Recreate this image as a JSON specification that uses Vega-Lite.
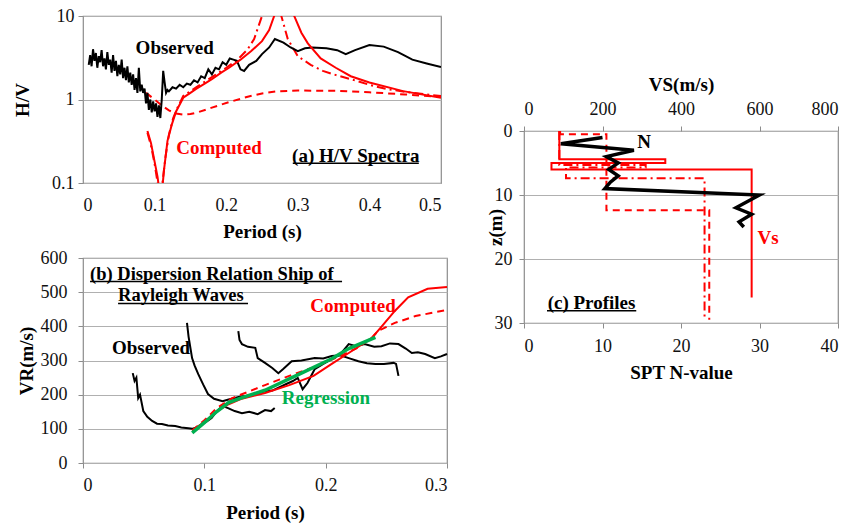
{
  "$schema": "https://vega.github.io/schema/vega-lite/v6.json",
  "background": "white",
  "padding": {"left": 12, "top": 6, "right": 5, "bottom": 5},
  "config": {
    "font": "Liberation Serif",
    "view": {"stroke": "#8c8c8c", "strokeWidth": 1.2},
    "axis": {
      "labelFont": "Liberation Serif", "labelFontSize": 18, "labelColor": "#111111",
      "titleFont": "Liberation Serif", "titleFontSize": 19, "titleFontWeight": "bold", "titleColor": "#000000",
      "domainColor": "#8c8c8c", "tickColor": "#8c8c8c", "gridColor": "#b0b0b0", "grid": false, "tickSize": 5
    },
    "text": {"font": "Liberation Serif", "fontWeight": "bold", "fontSize": 19}
  },
  "datasets": {
    "aObs": [
      {"p":0.008,"v":2.6},{"p":0.010,"v":3.4},{"p":0.012,"v":2.5},{"p":0.014,"v":4.0},{"p":0.016,"v":2.9},{"p":0.018,"v":3.6},
      {"p":0.020,"v":2.4},{"p":0.022,"v":3.3},{"p":0.024,"v":2.8},{"p":0.026,"v":3.9},{"p":0.028,"v":2.5},{"p":0.030,"v":3.1},
      {"p":0.032,"v":2.3},{"p":0.034,"v":3.7},{"p":0.036,"v":2.6},{"p":0.038,"v":3.0},{"p":0.040,"v":2.1},{"p":0.042,"v":3.4},
      {"p":0.044,"v":2.2},{"p":0.046,"v":2.9},{"p":0.048,"v":1.9},{"p":0.050,"v":2.6},{"p":0.052,"v":2.0},{"p":0.054,"v":3.0},
      {"p":0.056,"v":1.8},{"p":0.058,"v":2.4},{"p":0.060,"v":1.7},{"p":0.062,"v":2.5},{"p":0.064,"v":1.6},{"p":0.066,"v":2.1},
      {"p":0.068,"v":1.5},{"p":0.070,"v":2.0},{"p":0.072,"v":1.3},{"p":0.074,"v":1.8},{"p":0.076,"v":1.2},{"p":0.078,"v":2.4},
      {"p":0.080,"v":1.25},{"p":0.082,"v":1.5},{"p":0.084,"v":1.2},{"p":0.086,"v":1.35},{"p":0.088,"v":0.9},{"p":0.090,"v":1.2},
      {"p":0.092,"v":0.75},{"p":0.094,"v":1.0},{"p":0.096,"v":0.7},{"p":0.098,"v":0.95},{"p":0.100,"v":0.72},{"p":0.102,"v":0.9},
      {"p":0.104,"v":0.62},{"p":0.106,"v":0.85},{"p":0.108,"v":0.6},{"p":0.110,"v":1.0},{"p":0.112,"v":2.2},{"p":0.114,"v":1.6},
      {"p":0.116,"v":1.2},{"p":0.118,"v":1.3},{"p":0.120,"v":1.25},{"p":0.125,"v":1.4},{"p":0.130,"v":1.35},{"p":0.135,"v":1.5},
      {"p":0.140,"v":1.4},{"p":0.145,"v":1.55},{"p":0.150,"v":1.5},{"p":0.155,"v":1.7},{"p":0.160,"v":1.6},{"p":0.165,"v":1.9},
      {"p":0.170,"v":1.8},{"p":0.175,"v":2.3},{"p":0.180,"v":2.0},{"p":0.185,"v":2.4},{"p":0.190,"v":2.3},{"p":0.195,"v":2.8},
      {"p":0.200,"v":2.6},{"p":0.205,"v":3.1},{"p":0.210,"v":3.0},{"p":0.215,"v":2.9},{"p":0.220,"v":2.3},{"p":0.225,"v":2.2},
      {"p":0.232,"v":2.6},{"p":0.242,"v":2.9},{"p":0.250,"v":3.5},{"p":0.260,"v":4.2},{"p":0.268,"v":5.3},{"p":0.280,"v":4.8},
      {"p":0.290,"v":4.2},{"p":0.300,"v":3.8},{"p":0.310,"v":4.1},{"p":0.320,"v":4.2},{"p":0.340,"v":4.1},{"p":0.355,"v":3.9},
      {"p":0.367,"v":3.5},{"p":0.380,"v":3.9},{"p":0.400,"v":4.5},{"p":0.420,"v":4.3},{"p":0.440,"v":3.7},{"p":0.460,"v":3.0},
      {"p":0.480,"v":2.7},{"p":0.500,"v":2.45}
    ],
    "aSolid": [
      {"p":0.09,"v":0.42},{"p":0.095,"v":0.3},{"p":0.1,"v":0.18},{"p":0.104,"v":0.12},{"p":0.106,"v":0.09},{"p":0.109,"v":0.05},
      {"p":0.111,"v":0.09},{"p":0.113,"v":0.14},{"p":0.118,"v":0.32},{"p":0.124,"v":0.5},{"p":0.13,"v":0.72},{"p":0.14,"v":1.05},
      {"p":0.15,"v":1.2},{"p":0.158,"v":1.34},{"p":0.17,"v":1.55},{"p":0.18,"v":1.75},{"p":0.193,"v":2.1},{"p":0.204,"v":2.4},
      {"p":0.22,"v":3.0},{"p":0.235,"v":3.8},{"p":0.25,"v":5.0},{"p":0.26,"v":6.8},{"p":0.267,"v":10},{"p":0.272,"v":14},
      {"p":0.28,"v":20},{"p":0.29,"v":14},{"p":0.295,"v":10},{"p":0.305,"v":6.3},{"p":0.314,"v":4.7},{"p":0.332,"v":3.1},
      {"p":0.353,"v":2.4},{"p":0.374,"v":1.9},{"p":0.40,"v":1.6},{"p":0.447,"v":1.26},{"p":0.5,"v":1.05}
    ],
    "aDD": [
      {"p":0.09,"v":0.4},{"p":0.095,"v":0.28},{"p":0.1,"v":0.17},{"p":0.105,"v":0.09},{"p":0.108,"v":0.06},{"p":0.111,"v":0.1},
      {"p":0.115,"v":0.2},{"p":0.12,"v":0.38},{"p":0.126,"v":0.6},{"p":0.132,"v":0.8},{"p":0.14,"v":1.1},{"p":0.158,"v":1.4},
      {"p":0.18,"v":1.85},{"p":0.2,"v":2.4},{"p":0.216,"v":3.0},{"p":0.23,"v":4.0},{"p":0.239,"v":5.3},{"p":0.25,"v":10},
      {"p":0.262,"v":18},{"p":0.27,"v":18},{"p":0.277,"v":10},{"p":0.286,"v":5.3},{"p":0.30,"v":3.3},{"p":0.318,"v":2.6},
      {"p":0.335,"v":2.2},{"p":0.35,"v":2.0},{"p":0.374,"v":1.75},{"p":0.40,"v":1.5},{"p":0.423,"v":1.34},{"p":0.46,"v":1.2},
      {"p":0.5,"v":1.1}
    ],
    "aDash": [
      {"p":0.088,"v":1.2},{"p":0.1,"v":1.0},{"p":0.11,"v":0.85},{"p":0.12,"v":0.74},{"p":0.13,"v":0.68},{"p":0.14,"v":0.66},
      {"p":0.15,"v":0.67},{"p":0.16,"v":0.7},{"p":0.18,"v":0.8},{"p":0.204,"v":0.93},{"p":0.23,"v":1.08},{"p":0.25,"v":1.18},
      {"p":0.27,"v":1.25},{"p":0.3,"v":1.28},{"p":0.353,"v":1.27},{"p":0.4,"v":1.22},{"p":0.45,"v":1.15},{"p":0.5,"v":1.07}
    ],
    "aLab": [
      {"p":0.128,"v":4.1,"t":"Observed","k":"obs"},
      {"p":0.19,"v":0.26,"t":"Computed","k":"comp"},
      {"p":0.381,"v":0.21,"t":"(a) H/V Spectra","k":"title"}
    ],
    "aUl": [{"p":0.293,"p2":0.469,"v":0.172}],
    "bO1": [
      {"p":0.041,"v":263},{"p":0.0425,"v":240},{"p":0.044,"v":250},{"p":0.0455,"v":190},{"p":0.047,"v":200},{"p":0.0497,"v":152},
      {"p":0.053,"v":135},{"p":0.057,"v":123},{"p":0.061,"v":115},{"p":0.065,"v":114},{"p":0.07,"v":110},{"p":0.076,"v":108},
      {"p":0.081,"v":104},{"p":0.0868,"v":102},{"p":0.09,"v":100},{"p":0.094,"v":105},{"p":0.098,"v":114},{"p":0.102,"v":122},
      {"p":0.106,"v":132},{"p":0.11,"v":150},{"p":0.115,"v":167},{"p":0.12,"v":160},{"p":0.125,"v":152},{"p":0.131,"v":146},
      {"p":0.137,"v":150},{"p":0.144,"v":143},{"p":0.15,"v":155},{"p":0.155,"v":152},{"p":0.158,"v":161}
    ],
    "bO2": [
      {"p":0.0857,"v":410},{"p":0.087,"v":370},{"p":0.0899,"v":307},{"p":0.092,"v":285},{"p":0.095,"v":260},{"p":0.099,"v":230},
      {"p":0.103,"v":202},{"p":0.108,"v":188},{"p":0.115,"v":181},{"p":0.12,"v":186},{"p":0.125,"v":190},{"p":0.13,"v":195},
      {"p":0.134,"v":196},{"p":0.14,"v":200},{"p":0.145,"v":205},{"p":0.15,"v":210},{"p":0.156,"v":212},{"p":0.162,"v":222},
      {"p":0.168,"v":232},{"p":0.173,"v":240},{"p":0.177,"v":249},{"p":0.181,"v":216},{"p":0.185,"v":234},{"p":0.191,"v":275},
      {"p":0.198,"v":290},{"p":0.205,"v":304},{"p":0.212,"v":318},{"p":0.219,"v":348},{"p":0.225,"v":342},{"p":0.232,"v":348},
      {"p":0.24,"v":340},{"p":0.246,"v":342},{"p":0.253,"v":350},{"p":0.26,"v":348},{"p":0.266,"v":335},{"p":0.271,"v":322},
      {"p":0.276,"v":324},{"p":0.282,"v":319},{"p":0.29,"v":307},{"p":0.295,"v":312},{"p":0.30,"v":319}
    ],
    "bO3": [
      {"p":0.128,"v":386},{"p":0.129,"v":360},{"p":0.131,"v":348},{"p":0.136,"v":340},{"p":0.142,"v":337},{"p":0.144,"v":307},
      {"p":0.15,"v":293},{"p":0.156,"v":278},{"p":0.161,"v":263},{"p":0.165,"v":275},{"p":0.172,"v":298},{"p":0.18,"v":300},
      {"p":0.191,"v":307},{"p":0.198,"v":306},{"p":0.205,"v":313},{"p":0.212,"v":315},{"p":0.219,"v":307},{"p":0.227,"v":298},
      {"p":0.234,"v":292},{"p":0.241,"v":290},{"p":0.248,"v":290},{"p":0.256,"v":293},{"p":0.258,"v":290},{"p":0.26,"v":255}
    ],
    "bReg": [
      {"p":0.09,"v":88},{"p":0.1,"v":118},{"p":0.11,"v":150},{"p":0.12,"v":177},{"p":0.13,"v":190},{"p":0.15,"v":213},
      {"p":0.177,"v":258},{"p":0.205,"v":305},{"p":0.219,"v":335},{"p":0.241,"v":368}
    ],
    "bSolid": [
      {"p":0.09,"v":95},{"p":0.1,"v":120},{"p":0.11,"v":150},{"p":0.12,"v":172},{"p":0.13,"v":187},{"p":0.15,"v":205},
      {"p":0.17,"v":228},{"p":0.19,"v":255},{"p":0.205,"v":290},{"p":0.219,"v":322},{"p":0.238,"v":366},{"p":0.245,"v":395},
      {"p":0.257,"v":445},{"p":0.268,"v":485},{"p":0.284,"v":510},{"p":0.3,"v":515}
    ],
    "bDash": [
      {"p":0.09,"v":95},{"p":0.1,"v":125},{"p":0.11,"v":160},{"p":0.123,"v":190},{"p":0.15,"v":228},{"p":0.17,"v":255},
      {"p":0.19,"v":280},{"p":0.21,"v":310},{"p":0.225,"v":335},{"p":0.238,"v":366},{"p":0.243,"v":386},{"p":0.257,"v":410},
      {"p":0.274,"v":430},{"p":0.3,"v":448}
    ],
    "bLab": [
      {"p":0.056,"v":337,"t":"Observed","k":"obs"},
      {"p":0.2226,"v":459,"t":"Computed","k":"comp"},
      {"p":0.2003,"v":190,"t":"Regression","k":"reg"}
    ],
    "bTitle": [
      {"p":0.0058,"v":553,"t":"(b) Dispersion Relation Ship of"},
      {"p":0.0289,"v":492,"t":"Rayleigh Waves"}
    ],
    "bUl": [{"p":0.0058,"p2":0.2135,"v":531},{"p":0.0289,"p2":0.136,"v":467}],
    "cSolid": [
      {"vs":90,"z":0},{"vs":90,"z":4.4},{"vs":360,"z":4.4},{"vs":360,"z":5.0},{"vs":70,"z":5.0},{"vs":70,"z":6.0},
      {"vs":580,"z":6.0},{"vs":580,"z":26}
    ],
    "cDash": [
      {"vs":92,"z":0},{"vs":92,"z":0.5},{"vs":210,"z":0.5},{"vs":210,"z":12.4},{"vs":472,"z":12.4},{"vs":472,"z":29.5}
    ],
    "cDD": [
      {"vs":90,"z":0},{"vs":90,"z":5.3},{"vs":310,"z":5.3},{"vs":310,"z":5.7},{"vs":107,"z":5.7},{"vs":107,"z":7.4},
      {"vs":460,"z":7.4},{"vs":460,"z":29.5}
    ],
    "cN": [
      {"n":10,"z":1},{"n":4.7,"z":2},{"n":14,"z":3},{"n":10.5,"z":4},{"n":12,"z":5},{"n":10.8,"z":6},{"n":12,"z":7},
      {"n":11,"z":8},{"n":10.3,"z":9},{"n":30,"z":10},{"n":27,"z":12},{"n":29,"z":13},{"n":27.4,"z":14.2},{"n":28,"z":15}
    ],
    "cLabN": [{"n":15.3,"z":1.7,"t":"N","k":"obs"},{"n":8.6,"z":26.9,"t":"(c) Profiles","k":"title"}],
    "cLabVs": [{"vs":622,"z":16.7,"t":"Vs","k":"comp"}],
    "cUl": [{"n":2.93,"n2":14.3,"z":28.1}]
  },
  "spacing": 33,
  "hconcat": [
    {
      "bounds": "flush",
      "spacing": 75,
      "vconcat": [
        {
          "width": 358, "height": 167,
          "encoding": {
            "x": {"field": "p", "type": "quantitative", "scale": {"domain": [0, 0.5], "nice": false},
                  "axis": {"title": "Period (s)", "values": [0, 0.1, 0.2, 0.3, 0.4, 0.5], "format": "~g", "ticks": false, "domain": false, "labelPadding": 13, "titlePadding": 8}},
            "y": {"field": "v", "type": "quantitative", "scale": {"type": "log", "domain": [0.1, 10], "nice": false},
                  "axis": {"title": "H/V", "values": [0.1, 1, 10], "format": "~g", "grid": true, "labelPadding": 4, "titlePadding": 19, "domain": false}}
          },
          "layer": [
            {"data": {"name": "aDash"}, "mark": {"type": "line", "clip": true, "color": "#ff0000", "strokeWidth": 2, "strokeDash": [7, 5]}},
            {"data": {"name": "aDD"}, "mark": {"type": "line", "clip": true, "color": "#ff0000", "strokeWidth": 2, "strokeDash": [9, 4, 2, 4]}},
            {"data": {"name": "aObs"}, "mark": {"type": "line", "clip": true, "color": "#000000", "strokeWidth": 2}},
            {"data": {"name": "aSolid"}, "mark": {"type": "line", "clip": true, "color": "#ff0000", "strokeWidth": 2}},
            {"data": {"name": "aLab"}, "mark": {"type": "text"},
             "encoding": {"text": {"field": "t"},
                          "color": {"field": "k", "type": "nominal", "legend": null,
                                    "scale": {"domain": ["obs", "comp", "reg", "title"], "range": ["#000000", "#ff0000", "#00b050", "#000000"]}}}},
            {"data": {"name": "aUl"}, "mark": {"type": "rule", "color": "#000000", "strokeWidth": 1.5},
             "encoding": {"x2": {"field": "p2"}}}
          ]
        },
        {
          "width": 364, "height": 205,
          "encoding": {
            "x": {"field": "p", "type": "quantitative", "scale": {"domain": [0, 0.3], "nice": false},
                  "axis": {"title": "Period (s)", "values": [0, 0.1, 0.2, 0.3], "format": "~g", "labelPadding": 8, "titlePadding": 9, "domain": false}},
            "y": {"field": "v", "type": "quantitative", "scale": {"domain": [0, 600], "nice": false},
                  "axis": {"title": "VR(m/s)", "values": [0, 100, 200, 300, 400, 500, 600], "grid": true, "labelPadding": 11, "titlePadding": 4, "domain": false}}
          },
          "layer": [
            {"data": {"name": "bO1"}, "mark": {"type": "line", "color": "#000000", "strokeWidth": 2}},
            {"data": {"name": "bO2"}, "mark": {"type": "line", "color": "#000000", "strokeWidth": 2}},
            {"data": {"name": "bO3"}, "mark": {"type": "line", "color": "#000000", "strokeWidth": 2}},
            {"data": {"name": "bDash"}, "mark": {"type": "line", "color": "#ff0000", "strokeWidth": 2, "strokeDash": [7, 5]}},
            {"data": {"name": "bSolid"}, "mark": {"type": "line", "color": "#ff0000", "strokeWidth": 2}},
            {"data": {"name": "bReg"}, "mark": {"type": "line", "color": "#00b050", "strokeWidth": 3.5}},
            {"data": {"name": "bLab"}, "mark": {"type": "text"},
             "encoding": {"text": {"field": "t"},
                          "color": {"field": "k", "type": "nominal", "legend": null,
                                    "scale": {"domain": ["obs", "comp", "reg", "title"], "range": ["#000000", "#ff0000", "#00b050", "#000000"]}}}},
            {"data": {"name": "bTitle"}, "mark": {"type": "text", "align": "left", "color": "#000000", "fontSize": 18.5},
             "encoding": {"text": {"field": "t"}}},
            {"data": {"name": "bUl"}, "mark": {"type": "rule", "color": "#000000", "strokeWidth": 1.5},
             "encoding": {"x2": {"field": "p2"}}}
          ]
        }
      ]
    },
    {
      "bounds": "flush",
      "spacing": 20,
      "vconcat": [
        {"width": 314, "height": 95, "data": {"values": [{"a": 1}]}, "mark": {"type": "point", "opacity": 0}, "view": {"stroke": null}},
        {
          "width": 314, "height": 192,
          "layer": [
            {
              "encoding": {
                "x": {"field": "vs", "type": "quantitative", "scale": {"domain": [0, 800], "nice": false},
                      "axis": {"orient": "top", "title": "VS(m/s)", "values": [0, 200, 400, 600, 800], "labelPadding": 8, "titlePadding": 6, "domain": false}},
                "y": {"field": "z", "type": "quantitative", "scale": {"domain": [0, 30], "reverse": true, "nice": false},
                      "axis": {"title": "z(m)", "values": [0, 10, 20, 30], "grid": true, "labelPadding": 7, "domain": false, "titleX": -19, "titleY": 96}}
              },
              "layer": [
                {"data": {"name": "cDash"}, "mark": {"type": "line", "color": "#ff0000", "strokeWidth": 2, "strokeDash": [7, 5]}, "encoding": {"order": {"value": null}}},
                {"data": {"name": "cDD"}, "mark": {"type": "line", "color": "#ff0000", "strokeWidth": 2, "strokeDash": [9, 4, 2, 4]}, "encoding": {"order": {"value": null}}},
                {"data": {"name": "cSolid"}, "mark": {"type": "line", "color": "#ff0000", "strokeWidth": 2}, "encoding": {"order": {"value": null}}},
                {"data": {"name": "cLabVs"}, "mark": {"type": "text", "color": "#ff0000"}, "encoding": {"text": {"field": "t"}}}
              ]
            },
            {
              "encoding": {
                "x": {"field": "n", "type": "quantitative", "scale": {"domain": [0, 40], "nice": false},
                      "axis": {"orient": "bottom", "title": "SPT N-value", "values": [0, 10, 20, 30, 40], "labelPadding": 9, "titlePadding": 8, "domain": false}},
                "y": {"field": "z", "type": "quantitative", "scale": {"domain": [0, 30], "reverse": true, "nice": false},
                      "axis": {"title": "z(m)", "values": [0, 10, 20, 30], "grid": true, "labelPadding": 7, "domain": false, "titleX": -19, "titleY": 96}}
              },
              "layer": [
                {"data": {"name": "cN"}, "mark": {"type": "line", "color": "#000000", "strokeWidth": 3.5}, "encoding": {"order": {"value": null}}},
                {"data": {"name": "cLabN"}, "mark": {"type": "text"},
                 "encoding": {"text": {"field": "t"},
                              "color": {"field": "k", "type": "nominal", "legend": null,
                                        "scale": {"domain": ["obs", "comp", "reg", "title"], "range": ["#000000", "#ff0000", "#00b050", "#000000"]}}}},
                {"data": {"name": "cUl"}, "mark": {"type": "rule", "color": "#000000", "strokeWidth": 1.5}, "encoding": {"x2": {"field": "n2"}}}
              ]
            }
          ],
          "resolve": {"scale": {"x": "independent"}, "axis": {"x": "independent"}}
        }
      ]
    }
  ]
}
